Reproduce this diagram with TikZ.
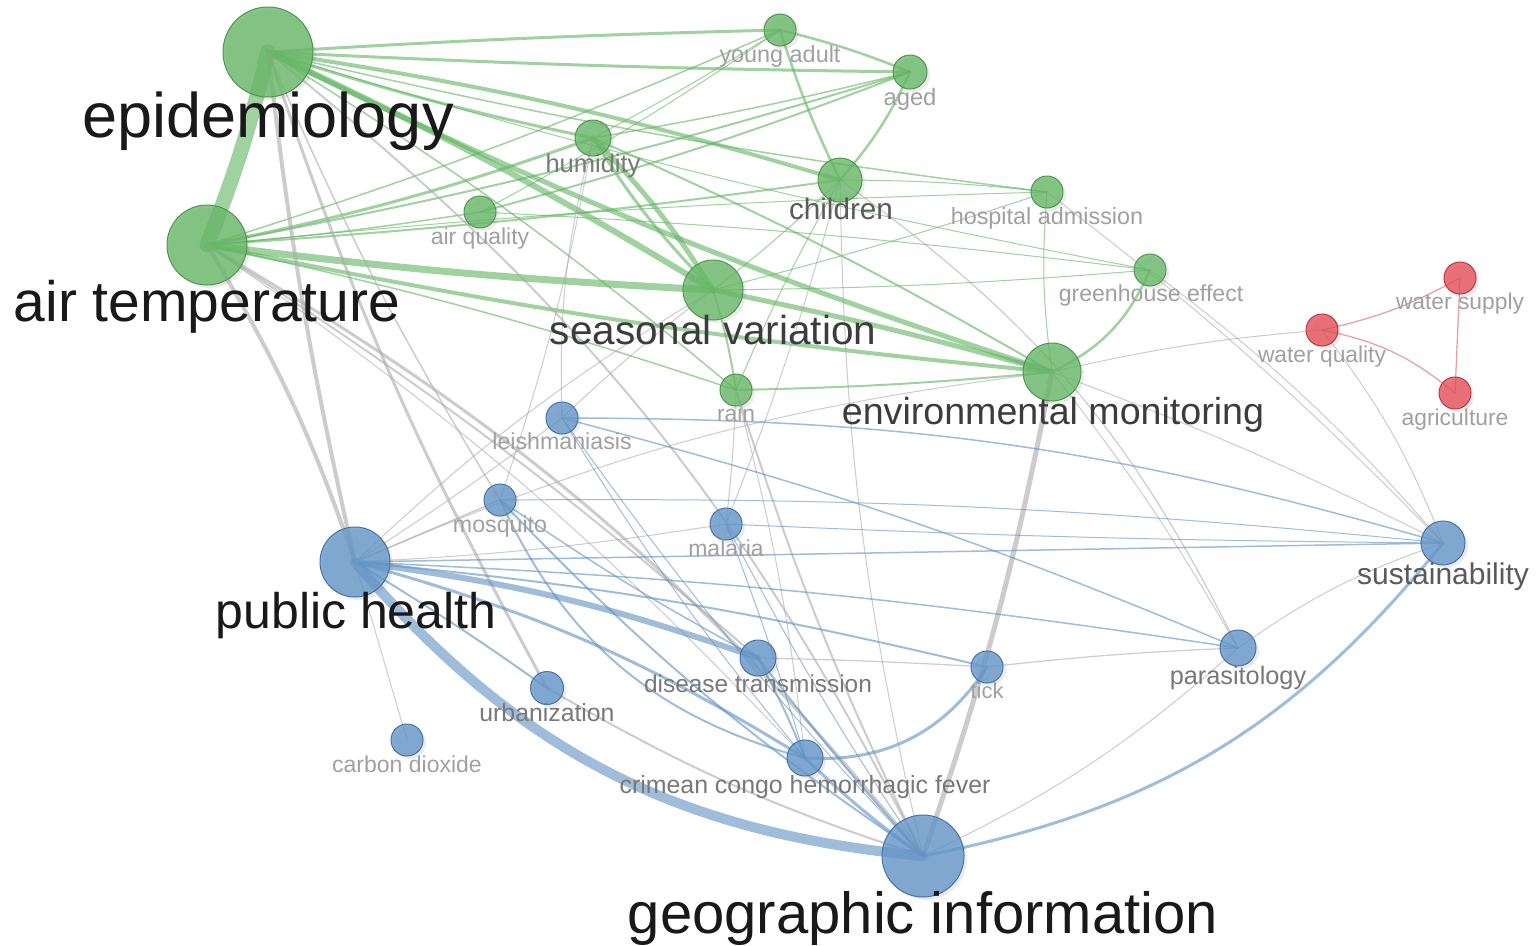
\documentclass[tikz,border=0pt]{standalone}
\usepackage{fontspec}
\setmainfont{Liberation Sans}
\usetikzlibrary{shadows}
\pgfdeclarelayer{back}
\pgfdeclarelayer{bg}
\pgfsetlayers{back,bg,main}
\definecolor{gfill}{RGB}{104,184,104}
\definecolor{gline}{RGB}{80,150,80}
\definecolor{bfill}{RGB}{100,150,200}
\definecolor{bline}{RGB}{70,115,165}
\definecolor{rfill}{RGB}{230,80,90}
\definecolor{rline}{RGB}{185,55,65}
\definecolor{gedge}{RGB}{95,180,95}
\definecolor{bedge}{RGB}{95,145,195}
\definecolor{xedge}{RGB}{170,170,170}
\definecolor{redge}{RGB}{228,110,120}
\definecolor{t1}{RGB}{25,25,25}
\definecolor{t2}{RGB}{60,60,60}
\definecolor{t3}{RGB}{90,90,90}
\definecolor{t4}{RGB}{120,120,120}
\definecolor{t5}{RGB}{160,160,160}
\newcommand\fsz[1]{\fontsize{#1}{#1}\selectfont}
\tikzset{
  nd/.style={circle,inner sep=0pt,line width=1pt,fill opacity=.8,
    drop shadow={opacity=.15,shadow xshift=3pt,shadow yshift=-3pt}},
  gn/.style={nd,fill=gfill,draw=gline},
  bn/.style={nd,fill=bfill,draw=bline},
  rn/.style={nd,fill=rfill,draw=rline},
  lab/.style={anchor=base,inner sep=0pt},
  ge/.style={draw=gedge,draw opacity=.6,line cap=round},
  be/.style={draw=bedge,draw opacity=.6,line cap=round},
  xe/.style={draw=xedge,draw opacity=.6,line cap=round},
  re/.style={draw=redge,draw opacity=.7,line cap=round},
}
\begin{document}
\begin{tikzpicture}[x=1pt,y=-1pt]
\begin{pgfonlayer}{back}
\fill[white] (0,0) rectangle (1536,945);
\end{pgfonlayer}
\useasboundingbox (0,0) rectangle (1536,945);
% ---- nodes ----
\node[gn,minimum size=90pt] (epi) at (268,52) {};
\node[gn,minimum size=80pt] (at) at (207,245) {};
\node[gn,minimum size=32pt] (ya) at (780,30) {};
\node[gn,minimum size=34pt] (aged) at (910,72) {};
\node[gn,minimum size=36pt] (hum) at (593,138) {};
\node[gn,minimum size=44pt] (chi) at (840,180) {};
\node[gn,minimum size=32pt] (hosp) at (1047,192) {};
\node[gn,minimum size=32pt] (aq) at (480,212) {};
\node[gn,minimum size=32pt] (gh) at (1150,270) {};
\node[gn,minimum size=60pt] (sv) at (713,290) {};
\node[gn,minimum size=58pt] (em) at (1052,372) {};
\node[gn,minimum size=32pt] (rain) at (736,390) {};
\node[rn,minimum size=32pt] (ws) at (1460,278) {};
\node[rn,minimum size=32pt] (wq) at (1322,330) {};
\node[rn,minimum size=32pt] (agr) at (1455,393) {};
\node[bn,minimum size=32pt] (lei) at (562,418) {};
\node[bn,minimum size=32pt] (mos) at (500,500) {};
\node[bn,minimum size=32pt] (mal) at (726,524) {};
\node[bn,minimum size=70pt] (ph) at (355,562) {};
\node[bn,minimum size=44pt] (sus) at (1443,543) {};
\node[bn,minimum size=36pt] (par) at (1238,648) {};
\node[bn,minimum size=36pt] (dt) at (758,658) {};
\node[bn,minimum size=32pt] (tick) at (987,667) {};
\node[bn,minimum size=33pt] (urb) at (547,688) {};
\node[bn,minimum size=32pt] (co2) at (407,740) {};
\node[bn,minimum size=36pt] (cc) at (805,758) {};
\node[bn,minimum size=82pt] (gi) at (923,856) {};
% ---- edges ----
\begin{pgfonlayer}{bg}
% green
\draw[ge,line width=15pt] (epi.center) to[bend left=4] (at.center);
\draw[ge,line width=3pt] (epi.center) to[bend left=1] (ya.center);
\draw[ge,line width=3pt] (epi.center) to[bend right=1] (aged.center);
\draw[ge,line width=3pt] (epi.center) to[bend right=3] (hum.center);
\draw[ge,line width=4pt] (epi.center) to[bend left=4] (chi.center);
\draw[ge,line width=6pt] (epi.center) to[bend left=3] (sv.center);
\draw[ge,line width=5pt] (epi.center) to[bend right=4] (em.center);
\draw[ge,line width=1.5pt] (epi.center) to[bend right=3] (hosp.center);
\draw[ge,line width=1.5pt] (epi.center) to[bend left=4] (rain.center);
\draw[ge,line width=1pt] (epi.center) to[bend right=3] (gh.center);
\draw[ge,line width=7pt] (at.center) to[bend right=2] (sv.center);
\draw[ge,line width=4pt] (at.center) to[bend right=3] (em.center);
\draw[ge,line width=3pt] (at.center) to[bend right=4] (hum.center);
\draw[ge,line width=2pt] (at.center) to[bend right=3] (aged.center);
\draw[ge,line width=1.5pt] (at.center) to[bend right=3] (ya.center);
\draw[ge,line width=2pt] (at.center) to[bend right=2] (chi.center);
\draw[ge,line width=1.5pt] (at.center) to[bend right=2] (aq.center);
\draw[ge,line width=1pt] (at.center) to[bend left=2] (hosp.center);
\draw[ge,line width=1.5pt] (at.center) to[bend left=3] (rain.center);
\draw[ge,line width=5pt] (hum.center) to[bend left=6] (sv.center);
\draw[ge,line width=3pt] (hum.center) to[bend right=6] (sv.center);
\draw[ge,line width=2pt] (hum.center) to[bend left=3] (em.center);
\draw[ge,line width=1.5pt] (hum.center) to[bend right=2] (aged.center);
\draw[ge,line width=1pt] (hum.center) to[bend right=2] (ya.center);
\draw[ge,line width=2pt] (aq.center) to[bend right=3] (aged.center);
\draw[ge,line width=1pt] (aq.center) to[bend right=3] (ya.center);
\draw[ge,line width=1pt] (aq.center) to[bend left=2] (gh.center);
\draw[ge,line width=5pt] (sv.center) to[bend left=2] (em.center);
\draw[ge,line width=2pt] (sv.center) to[bend left=4] (rain.center);
\draw[ge,line width=1pt] (sv.center) to[bend right=3] (chi.center);
\draw[ge,line width=1pt] (sv.center) to[bend right=2] (gh.center);
\draw[ge,line width=1pt] (sv.center) to[bend right=2] (hosp.center);
\draw[ge,line width=2.5pt] (chi.center) to[bend left=4] (ya.center);
\draw[ge,line width=2.5pt] (chi.center) to[bend right=8] (aged.center);
\draw[ge,line width=2.5pt] (ya.center) to[bend left=4] (aged.center);
\draw[ge,line width=1pt] (chi.center) to[bend left=3] (hosp.center);
\draw[ge,line width=2.5pt] (em.center) to[bend right=20] (gh.center);
\draw[ge,line width=2pt] (em.center) to[bend left=2] (rain.center);
\draw[ge,line width=1pt] (em.center) to[bend left=6] (hosp.center);
\draw[ge,line width=1pt] (rain.center) to[bend left=3] (chi.center);
% grey (between clusters)
\draw[xe,line width=4pt] (epi.center) to[bend right=3] (ph.center);
\draw[xe,line width=3pt] (epi.center) to[bend right=5] (urb.center);
\draw[xe,line width=2pt] (epi.center) to[bend left=12] (gi.center);
\draw[xe,line width=1.5pt] (epi.center) to[bend right=4] (mos.center);
\draw[xe,line width=4pt] (at.center) to[bend left=6] (ph.center);
\draw[xe,line width=3pt] (at.center) to[bend left=10] (gi.center);
\draw[xe,line width=2pt] (at.center) to[bend left=4] (dt.center);
\draw[xe,line width=1pt] (at.center) to[bend left=6] (cc.center);
\draw[xe,line width=5pt] (em.center) to[bend left=4] (gi.center);
\draw[xe,line width=1pt] (em.center) to[bend left=3] (sus.center);
\draw[xe,line width=1pt] (em.center) to[bend left=4] (wq.center);
\draw[xe,line width=1pt] (em.center) to[bend left=4] (par.center);
\draw[xe,line width=1pt] (em.center) to[bend right=8] (ph.center);
\draw[xe,line width=1pt] (chi.center) to[bend right=6] (gi.center);
\draw[xe,line width=1.2pt] (chi.center) to[bend left=14] (par.center);
\draw[xe,line width=1pt] (hosp.center) to[bend left=4] (sus.center);
\draw[xe,line width=1pt] (gh.center) to[bend left=6] (sus.center);
\draw[xe,line width=1pt] (rain.center) to[bend left=2] (mal.center);
\draw[xe,line width=2pt] (rain.center) to[bend right=4] (gi.center);
\draw[xe,line width=1pt] (rain.center) to[bend left=4] (cc.center);
\draw[xe,line width=1pt] (sv.center) to[bend right=6] (ph.center);
\draw[xe,line width=1pt] (sv.center) to[bend right=3] (lei.center);
\draw[xe,line width=1pt] (hum.center) to[bend left=4] (mos.center);
\draw[xe,line width=1pt] (chi.center) to[bend left=3] (mal.center);
\draw[xe,line width=1pt] (wq.center) to[bend left=8] (sus.center);
\draw[xe,line width=1pt] (hum.center) to[bend right=8] (lei.center);
% red
\draw[re,line width=1.2pt] (wq.center) to[bend right=8] (ws.center);
\draw[re,line width=1.2pt] (wq.center) to[bend left=14] (agr.center);
\draw[re,line width=1.2pt] (ws.center) -- (agr.center);
% blue
\draw[be,line width=10pt] (ph.center) to[bend right=22] (gi.center);
\draw[be,line width=6pt] (ph.center) to[bend left=6] (dt.center);
\draw[be,line width=3pt] (ph.center) to[bend left=8] (cc.center);
\draw[be,line width=2pt] (ph.center) to[bend left=4] (tick.center);
\draw[be,line width=1.5pt] (ph.center) -- (sus.center);
\draw[be,line width=1.5pt] (ph.center) to[bend left=3] (par.center);
\draw[be,line width=2pt] (ph.center) to[bend left=2] (urb.center);
\draw[xe,line width=1pt] (ph.center) -- (co2.center);
\draw[xe,line width=1.5pt] (ph.center) -- (mos.center);
\draw[xe,line width=1pt] (ph.center) to[bend right=2] (lei.center);
\draw[xe,line width=1pt] (ph.center) to[bend right=3] (mal.center);
\draw[be,line width=3pt] (gi.center) to[bend right=20] (sus.center);
\draw[be,line width=3pt] (gi.center) to[bend left=4] (cc.center);
\draw[be,line width=2pt] (gi.center) to[bend left=2] (dt.center);
\draw[xe,line width=2pt] (gi.center) to[bend left=6] (urb.center);
\draw[be,line width=2pt] (gi.center) to[bend left=6] (mos.center);
\draw[be,line width=1pt] (gi.center) to[bend left=4] (lei.center);
\draw[xe,line width=1pt] (gi.center) to[bend right=8] (par.center);
\draw[be,line width=1pt] (gi.center) to[bend left=3] (mal.center);
\draw[be,line width=3pt] (cc.center) to[bend right=30] (tick.center);
\draw[be,line width=2pt] (mos.center) to[bend right=25] (cc.center);
\draw[be,line width=1.5pt] (mos.center) to[bend right=3] (dt.center);
\draw[be,line width=1.5pt] (lei.center) to[bend left=8] (sus.center);
\draw[be,line width=1.5pt] (lei.center) to[bend left=4] (par.center);
\draw[be,line width=1pt] (lei.center) to[bend right=4] (cc.center);
\draw[be,line width=1pt] (mos.center) to[bend left=3] (sus.center);
\draw[be,line width=1pt] (mal.center) to[bend right=1] (sus.center);
\draw[xe,line width=1.2pt] (dt.center) to[bend left=1] (tick.center);
\draw[xe,line width=1.2pt] (tick.center) to[bend left=2] (par.center);
\draw[xe,line width=1pt] (par.center) to[bend left=8] (sus.center);
\draw[be,line width=2pt] (dt.center) to[bend left=3] (cc.center);
\draw[be,line width=1pt] (mal.center) to[bend left=2] (cc.center);
\end{pgfonlayer}
% ---- labels ----
\node[lab,text=t1,font=\fsz{63}] (epiL) at (268,137) {epidemiology};
\node[lab,text=t1,font=\fsz{57}] (atL) at (207,321) {air temperature};
\node[lab,text=t1,font=\fsz{50}] (phL) at (356,628) {public health};
\node[lab,text=t1,font=\fsz{58}] (giL) at (923,933) {geographic information};
\node[lab,text=t2,font=\fsz{40.5}] (svL) at (713,344) {seasonal variation};
\node[lab,text=t2,font=\fsz{37.6}] (emL) at (1053,424) {environmental monitoring};
\node[lab,text=t3,font=\fsz{29.7}] (chiL) at (841,219) {children};
\node[lab,text=t3,font=\fsz{30}] (susL) at (1443,584) {sustainability};
\node[lab,text=t4,font=\fsz{25.3}] (parL) at (1238,684) {parasitology};
\node[lab,text=t4,font=\fsz{24.4}] (dtL) at (758,692) {disease transmission};
\node[lab,text=t4,font=\fsz{24.9}] (ccL) at (805,793) {crimean congo hemorrhagic fever};
\node[lab,text=t4,font=\fsz{24.8}] (urbL) at (547,721) {urbanization};
\node[lab,text=t4,font=\fsz{25.5}] (humL) at (593,172) {humidity};
\node[lab,text=t5,font=\fsz{23}] (co2L) at (407,772) {carbon dioxide};
\node[lab,text=t5,font=\fsz{23.2}] (leiL) at (562,449) {leishmaniasis};
\node[lab,text=t5,font=\fsz{23.2}] (mosL) at (500,532) {mosquito};
\node[lab,text=t5,font=\fsz{23}] (malL) at (726,556) {malaria};
\node[lab,text=t5,font=\fsz{22}] (tickL) at (987,698) {tick};
\node[lab,text=t5,font=\fsz{23}] (aqL) at (480,244) {air quality};
\node[lab,text=t5,font=\fsz{23.4}] (yaL) at (780,62) {young adult};
\node[lab,text=t5,font=\fsz{23.8}] (agedL) at (910,105) {aged};
\node[lab,text=t5,font=\fsz{23.4}] (hospL) at (1047,224) {hospital admission};
\node[lab,text=t5,font=\fsz{23.1}] (ghL) at (1151,301) {greenhouse effect};
\node[lab,text=t5,font=\fsz{22.8}] (rainL) at (736,421) {rain};
\node[lab,text=t5,font=\fsz{22.8}] (wsL) at (1460,309) {water supply};
\node[lab,text=t5,font=\fsz{22.8}] (wqL) at (1322,362) {water quality};
\node[lab,text=t5,font=\fsz{22.9}] (agrL) at (1455,425) {agriculture};
\end{tikzpicture}
\end{document}
